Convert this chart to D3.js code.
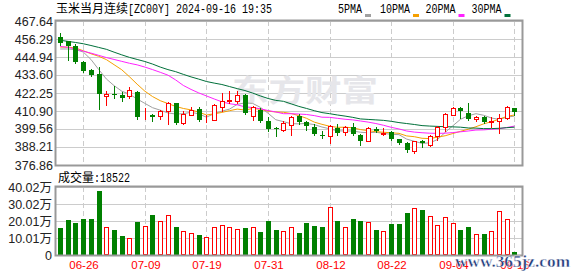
<!DOCTYPE html>
<html>
<head>
<meta charset="utf-8">
<script src="https://cdn.jsdelivr.net/npm/d3@7"></script>
<style>
  body { margin: 0; background: #fff; }
  svg { display: block; }
</style>
</head>
<body>
<svg id="chart" width="578" height="276"></svg>
<script>
// ---- data ----
const dates = ['06-21','06-24','06-25','06-26','06-27','06-28','07-01','07-02','07-03','07-04',
  '07-08','07-09','07-10','07-11','07-12','07-15','07-16','07-17','07-18','07-19',
  '07-22','07-23','07-24','07-25','07-26','07-29','07-30','07-31','08-01','08-02',
  '08-05','08-06','08-07','08-08','08-09','08-12','08-13','08-14','08-15','08-16',
  '08-19','08-20','08-21','08-22','08-23','08-26','08-27','08-28','08-29','09-02',
  '09-03','09-04','09-05','09-06','09-09','09-10','09-11','09-12','09-13','09-16'];

const open  = [457.7,454.8,451.7,441.8,436.7,434.2,420.2,421.6,420.8,420.2,
  422.9,407.5,408.2,407.5,410.7,415.7,403.6,408.5,412.1,405.0,
  405.4,413.6,417.0,417.4,420.8,407.5,411.7,404.8,400.5,399.1,
  402.2,407.5,403.9,400.8,396.0,394.9,400.2,397.6,400.6,395.6,
  392.2,399.7,396.1,397.6,393.0,390.5,385.9,391.8,389.6,394.9,
  400.6,408.5,412.8,409.6,405.6,407.1,403.8,404.8,406.5,412.8];
const high  = [460.3,455.0,453.3,442.4,437.6,438.4,423.7,426.5,422.9,425.8,
  423.3,412.8,409.0,411.7,416.6,416.0,410.7,413.2,413.2,408.2,
  415.2,422.2,423.7,423.7,421.6,413.9,412.8,406.9,400.6,404.4,
  407.5,409.0,404.8,402.7,398.1,402.2,402.7,401.2,403.3,396.4,
  401.0,401.0,400.2,398.5,393.4,391.1,392.2,392.8,395.6,401.6,
  409.6,413.2,413.2,415.9,407.7,407.5,406.9,409.0,413.9,412.8];
const low   = [452.5,443.2,441.2,435.7,432.8,412.3,414.9,419.1,417.0,419.1,
  406.0,406.0,404.4,406.0,402.7,403.0,403.0,408.2,404.4,404.0,
  405.2,411.1,415.9,415.9,409.0,405.4,403.9,398.1,394.9,398.5,
  396.0,402.7,399.1,395.6,393.9,390.7,395.6,395.6,395.6,389.6,
  391.8,397.6,396.0,392.8,390.3,384.8,384.4,388.2,389.0,392.4,
  398.5,408.2,406.5,405.4,404.4,403.3,400.6,397.0,406.0,408.2];
const close = [453.6,451.7,441.8,436.3,433.8,421.8,421.6,420.8,419.1,424.0,
  407.1,407.7,407.3,410.7,415.9,403.3,409.0,411.7,405.4,405.4,
  414.5,417.0,418.0,420.8,409.6,413.2,404.4,399.7,400.2,403.3,
  406.9,403.9,401.2,396.4,395.6,401.6,397.1,400.6,396.4,391.8,
  400.2,398.5,397.2,393.4,390.7,386.1,391.8,390.7,394.9,400.8,
  409.0,412.8,411.1,406.0,407.1,403.9,404.4,406.5,413.2,410.3];

const volume = [160900,206000,188300,211900,211900,376600,162900,147100,111800,98100,
  194200,168700,235400,198100,233400,164800,139200,127500,117700,103900,
  162900,174600,162900,153000,158900,162900,135400,200100,147100,139200,
  162900,129500,188300,170700,164800,280500,200100,162900,211900,200100,
  192200,147100,139200,182400,182400,247200,274600,264800,227500,174600,
  221600,186300,147100,164800,121600,123600,139200,257100,209900,18522];

const ma5  = [450.0,450.0,449.6,448.1,443.4,437.1,431.1,426.9,423.4,421.5,
  418.5,415.7,413.0,411.4,409.7,409.0,409.2,410.1,409.1,407.0,
  409.2,410.8,412.1,415.1,416.0,415.7,413.2,409.5,405.4,404.2,
  402.9,402.8,403.1,402.3,400.8,399.7,398.4,398.3,398.3,397.5,
  397.2,397.5,396.8,396.2,396.0,393.2,391.8,390.5,390.8,392.9,
  397.4,401.6,405.7,407.9,409.2,408.2,406.5,405.6,407.0,407.7];
const ma10 = [451.2,451.2,450.6,448.9,447.0,445.4,443.3,440.1,436.9,432.5,
  427.8,423.4,420.0,417.4,415.6,413.8,412.5,411.6,410.2,408.4,
  409.1,410.0,411.1,412.1,411.5,412.5,412.0,410.8,410.3,410.1,
  409.3,408.0,406.3,403.9,402.5,401.3,400.6,400.7,400.3,399.2,
  398.5,397.9,397.5,397.2,396.8,395.2,394.7,393.7,393.5,394.4,
  395.3,396.7,398.1,399.4,401.0,402.8,404.1,405.7,407.5,408.4];
const ma20 = [451.6,451.0,450.0,448.6,447.4,446.0,444.6,443.4,442.2,441.0,
  440.0,438.6,437.0,435.3,433.5,430.5,427.0,424.5,422.3,420.4,
  418.5,416.7,415.5,414.8,413.5,413.1,412.3,411.2,410.3,409.2,
  409.2,409.0,408.7,408.0,407.0,406.9,406.3,405.7,405.3,404.6,
  403.9,403.0,401.9,400.6,399.6,398.3,397.6,397.2,396.9,396.8,
  396.9,397.3,397.8,398.3,398.9,399.0,399.4,399.7,400.5,401.4];
const ma30 = [455.5,454.8,454.1,453.3,452.2,451.0,449.8,448.0,446.3,444.7,
  443.4,442.1,440.5,438.6,437.0,435.7,434.0,432.4,431.0,429.5,
  428.5,427.6,426.3,425.0,423.8,422.2,420.4,418.8,417.6,417.0,
  415.4,413.8,412.5,411.1,409.9,409.2,408.4,407.7,406.9,405.9,
  405.6,405.3,405.0,404.4,403.6,403.0,402.4,401.7,401.4,401.2,
  401.0,400.9,400.7,400.2,400.1,399.8,399.8,400.0,400.4,400.7];

const priceTicks  = [376.86,388.21,399.56,410.90,422.25,433.60,444.94,456.29,467.64];
const priceLabels = ['376.86','388.21','399.56','410.90','422.25','433.60','444.94','456.29','467.64'];
const volTicks  = [0,100050,200100,300150,400200];
const volLabels = ['0','10.01万','20.01万','30.02万','40.02万'];
const xTickLabels = ['06-26','07-09','07-19','07-31','08-12','08-22','09-04','09-16'];

const maNames  = ['5PMA','10PMA','20PMA','30PMA'];
const maSeries = [ma5, ma10, ma20, ma30];

// ---- layout ----
const left = 56, right = 522;
const pTop = 21, pBot = 165;
const vTop = 187, vBot = 255;
const RED = '#ff0000', GREEN = '#008000';
const maColors = ['#a0a0a0', '#f5a000', '#ff22ff', '#00703a'];

const svg = d3.select('#chart');
const n = dates.length;

const x = d3.scaleBand().domain(d3.range(n)).range([56.65, 518.65]);
const bx = i => Math.round(x(i) + (x.bandwidth() - 5) / 2);   // left edge of a 5px body
const y = d3.scaleLinear().domain([priceTicks[0], priceTicks[priceTicks.length - 1]]).range([pBot, pTop]);
const vy = d3.scaleLinear().domain([0, volTicks[volTicks.length - 1]]).range([vBot, vTop]);
const py = v => Math.round(y(v));
const vpy = v => Math.round(vy(v));

const tickIdx = xTickLabels.map(d => dates.indexOf(d));
const up = i => close[i] >= open[i];

// title
const titleFont = '"Noto Sans CJK SC", sans-serif';
svg.append('text').attr('x', 56).attr('y', 13).attr('font-family', titleFont).attr('font-size', 12)
  .attr('fill', '#000').text('玉米当月连续');
svg.append('text').attr('x', 128).attr('y', 13).attr('font-family', '"Liberation Mono", monospace').attr('font-size', 12)
  .attr('textLength', 144).attr('lengthAdjust', 'spacingAndGlyphs').attr('fill', '#000')
  .text('[ZC00Y] 2024-09-16 19:35');

// legend
const legendX = [338, 380, 425.5, 471.5];
const legend = svg.append('g');
maNames.forEach((name, k) => {
  legend.append('text').attr('x', legendX[k]).attr('y', 13)
    .attr('font-family', '"Liberation Mono", monospace').attr('font-size', 12)
    .attr('textLength', name.length * 6).attr('lengthAdjust', 'spacingAndGlyphs')
    .attr('fill', '#000').text(name);
  legend.append('rect').attr('x', legendX[k] + name.length * 6 + 3).attr('y', 14)
    .attr('width', 6).attr('height', 3).attr('fill', maColors[k]);
});

// ---- grids ----
function hGrid(scale, ticks, top, bottom) {
  svg.append('g').attr('transform', `translate(${left},0)`)
    .call(d3.axisLeft(scale).tickValues(ticks).tickSize(-(right - left)).tickFormat(''))
    .call(g => g.select('.domain').remove())
    .call(g => g.selectAll('line').attr('stroke', '#cccccc'));
  svg.append('g').selectAll('line').data(tickIdx).join('line')
    .attr('x1', i => bx(i) + 2.5).attr('x2', i => bx(i) + 2.5)
    .attr('y1', top).attr('y2', bottom)
    .attr('stroke', '#cccccc').attr('stroke-dasharray', '5,3');
}
hGrid(y, priceTicks, pTop, pBot);
hGrid(vy, volTicks, vTop, vBot);

// watermark
svg.append('text').attr('x', 232).attr('y', 101)
  .attr('font-family', titleFont).attr('font-size', 30).attr('font-weight', 700)
  .attr('textLength', 146).attr('lengthAdjust', 'spacingAndGlyphs')
  .attr('fill', '#e6e6ea').text('东方财富');

// ---- axes labels ----
const labelFont = '"Liberation Sans", "Noto Sans CJK SC", sans-serif';
svg.append('g').attr('transform', `translate(${left},0)`)
  .call(d3.axisLeft(y).tickValues(priceTicks).tickFormat((d, i) => priceLabels[i]).tickSize(0).tickPadding(3))
  .call(g => g.select('.domain').remove())
  .selectAll('text').attr('font-family', labelFont).attr('font-size', 12.5).attr('fill', '#222');

svg.append('g').attr('transform', `translate(${left},0)`)
  .call(d3.axisLeft(vy).tickValues(volTicks).tickFormat((d, i) => volLabels[i]).tickSize(0).tickPadding(4))
  .call(g => g.select('.domain').remove())
  .selectAll('text').attr('font-family', labelFont).attr('font-size', 12.5).attr('fill', '#222');

const xAxisScale = d3.scaleOrdinal().domain(tickIdx).range(tickIdx.map(i => bx(i) + 2.5));
svg.append('g').attr('transform', `translate(0,${vBot})`)
  .call(d3.axisBottom(xAxisScale).tickValues(tickIdx).tickFormat(i => dates[i]).tickSize(0).tickPadding(6))
  .call(g => g.select('.domain').remove())
  .selectAll('text').attr('font-family', labelFont).attr('font-size', 11.5).attr('fill', RED);

// volume caption
svg.append('text').attr('x', 58).attr('y', 182).attr('font-family', titleFont).attr('font-size', 12)
  .attr('fill', '#000').text('成交量');
svg.append('text').attr('x', 94).attr('y', 182).attr('font-family', '"Liberation Mono", monospace').attr('font-size', 12)
  .attr('textLength', 36).attr('lengthAdjust', 'spacingAndGlyphs').attr('fill', '#000')
  .text(':' + volume[n - 1]);

// ---- moving averages ----
const line = d3.line().x((d, i) => x(i) + x.bandwidth() / 2 - 0.35).y(d => y(d));
svg.append('g').selectAll('path').data(maSeries).join('path')
  .attr('d', line).attr('fill', 'none')
  .attr('stroke', (d, k) => maColors[k]).attr('stroke-width', 1);

// ---- candles ----
const idx = d3.range(n);
const cg = svg.append('g');
cg.selectAll('line').data(idx).join('line')
  .attr('x1', i => bx(i) + 2.5).attr('x2', i => bx(i) + 2.5)
  .attr('y1', i => py(high[i])).attr('y2', i => py(low[i]) + 1)
  .attr('stroke', i => up(i) ? RED : GREEN);
cg.selectAll('rect').data(idx).join('rect')
  .attr('x', i => up(i) ? bx(i) + 0.5 : bx(i))
  .attr('y', i => up(i) ? py(close[i]) + 0.5 : py(open[i]))
  .attr('width', i => up(i) ? 4 : 5)
  .attr('height', i => up(i) ? Math.max(py(open[i]) - py(close[i]), 0) : Math.max(py(close[i]) - py(open[i]), 1))
  .attr('fill', i => up(i) ? '#fff' : GREEN)
  .attr('stroke', i => up(i) ? RED : 'none');

// ---- volume bars ----
svg.append('g').selectAll('rect').data(idx).join('rect')
  .attr('x', i => up(i) ? bx(i) + 0.5 : bx(i))
  .attr('y', i => up(i) ? vpy(volume[i]) + 0.5 : vpy(volume[i]))
  .attr('width', i => up(i) ? 4 : 5)
  .attr('height', i => up(i) ? vBot - vpy(volume[i]) - 1 : vBot - vpy(volume[i]))
  .attr('fill', i => up(i) ? '#fff' : GREEN)
  .attr('stroke', i => up(i) ? RED : 'none');

// ---- frames ----
[[pTop, pBot], [vTop, vBot]].forEach(([t, b]) => {
  svg.append('rect').attr('x', left - 0.5).attr('y', t - 0.5)
    .attr('width', right - left + 1).attr('height', b - t + 1)
    .attr('fill', 'none').attr('stroke', '#999').attr('stroke-width', 2);
});

// site watermark
svg.append('text').attr('x', 455).attr('y', 266.5)
  .attr('font-family', '"Liberation Serif", serif').attr('font-size', 16).attr('font-weight', 700)
  .attr('textLength', 115).attr('lengthAdjust', 'spacingAndGlyphs')
  .attr('fill', '#1e3a7b').attr('stroke', '#fff').attr('stroke-width', 0.4)
  .text('www.365jz.com');
</script>
</body>
</html>
